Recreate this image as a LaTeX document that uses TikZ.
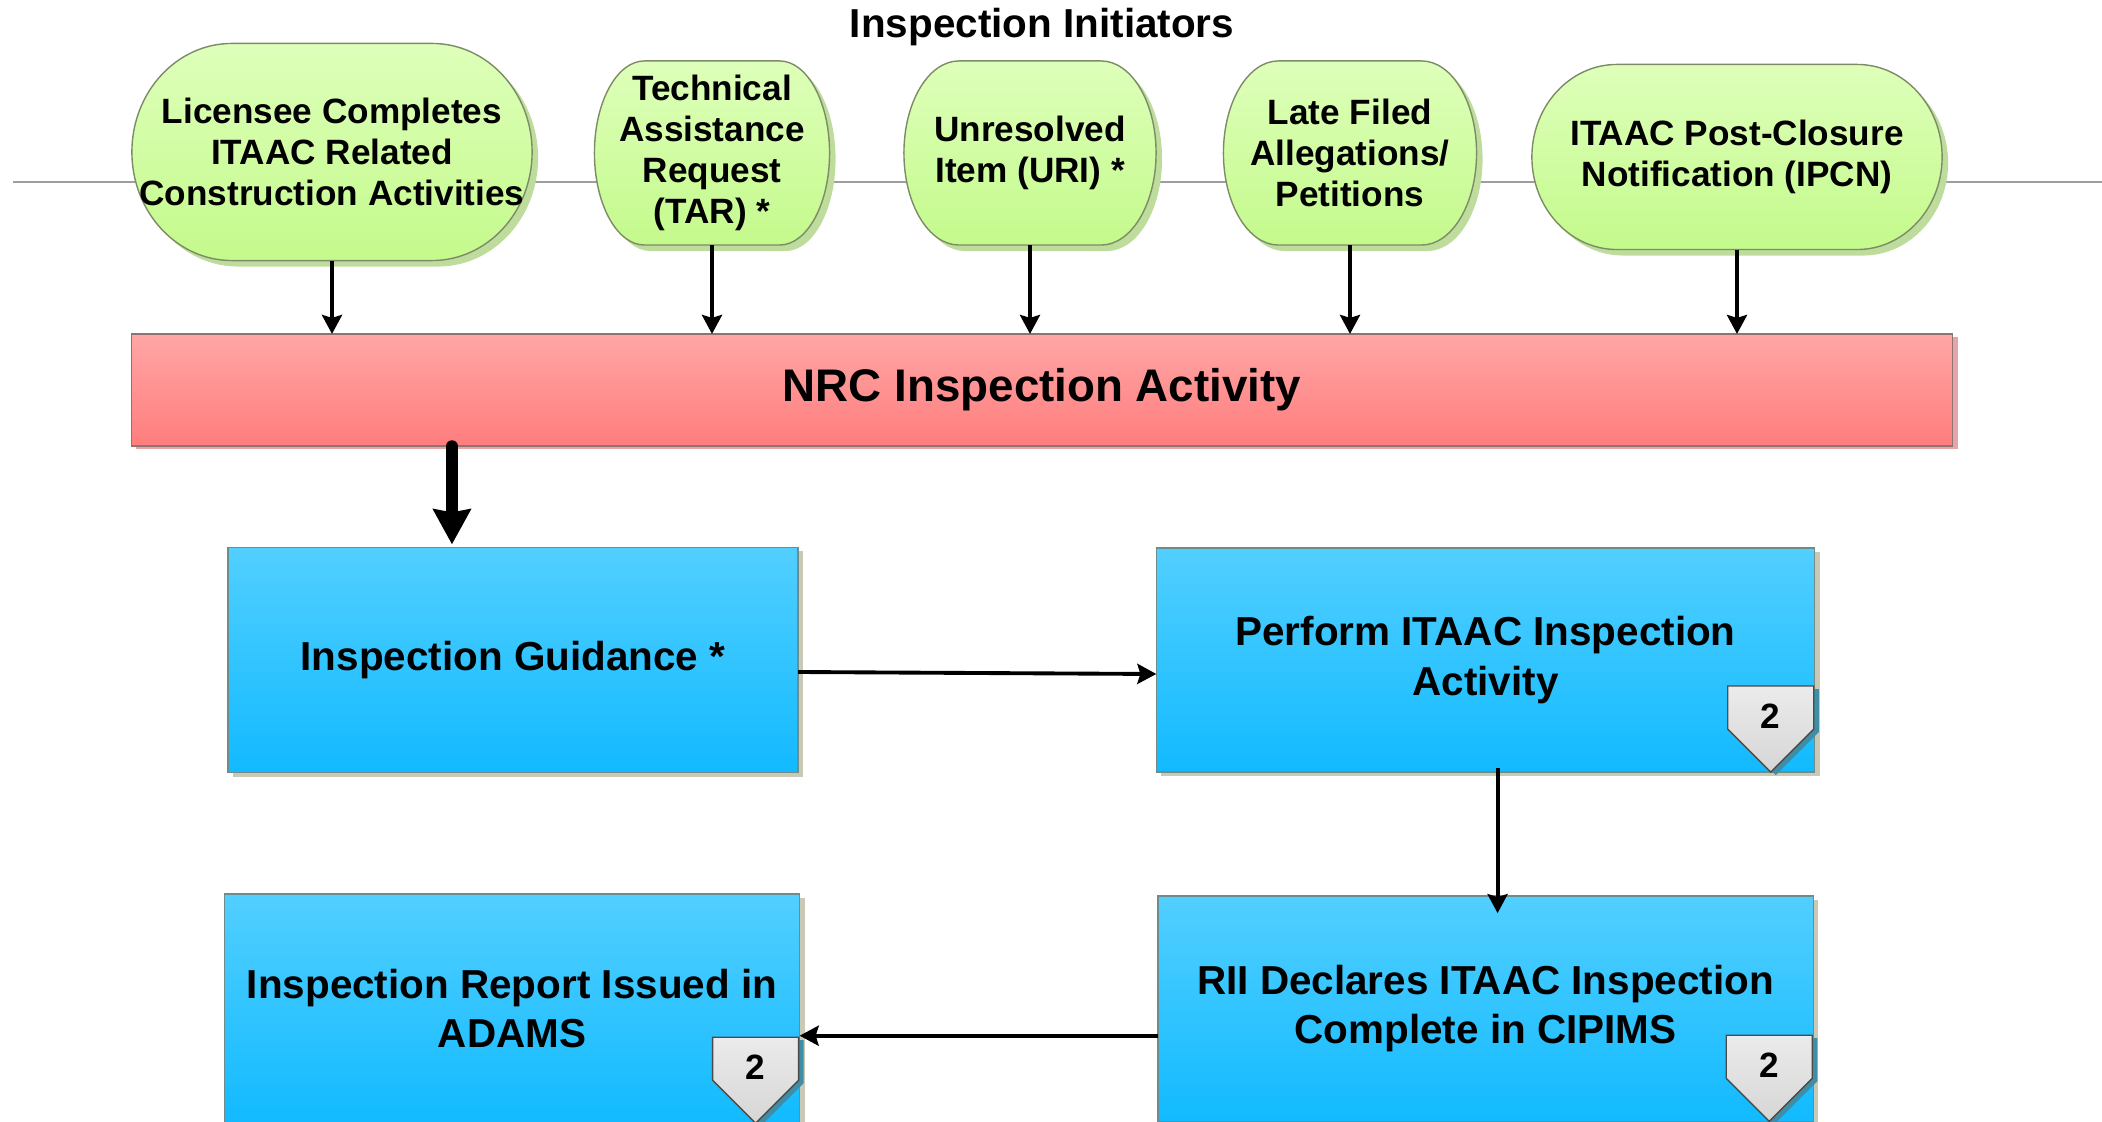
\documentclass[tikz,border=0pt]{standalone}
\usepackage{fontspec}
\setmainfont{Liberation Sans}
\usepackage{tikz}
\usetikzlibrary{positioning}
\usetikzlibrary{shapes, backgrounds}
\usetikzlibrary{arrows.meta}
\usetikzlibrary{shadows}
\usetikzlibrary{calc}
\tikzstyle{line} = [draw, -{Stealth[length=0.19cm, width=0.2cm, inset=0.03cm]}, line width=1.1pt]

\definecolor{initTop}{HTML}{DEFFBA}
\definecolor{initBot}{HTML}{C4FA8C}
\definecolor{initEdge}{HTML}{7D8C66}
\definecolor{initShade}{HTML}{BEDC9C}
\definecolor{nrcTop}{HTML}{FFA6A6}
\definecolor{nrcBot}{HTML}{FF7D7D}
\definecolor{nrcEdge}{HTML}{8F7272}
\definecolor{nrcShade}{HTML}{E3A5A5}
\definecolor{procTop}{HTML}{52CFFF}
\definecolor{procBot}{HTML}{12BAFF}
\definecolor{procEdge}{HTML}{6E8C8C}
\definecolor{procShade}{HTML}{C9C9B5}
\definecolor{markTop}{HTML}{EBEBEB}
\definecolor{markBot}{HTML}{D6D6D6}
\definecolor{markEdge}{HTML}{4A4A4A}
\definecolor{markShade}{HTML}{3F8EA6}

% rounded initiator outline, drawn behind its node
\newcommand{\initshape}[3]{%
  \begin{scope}[on background layer]
    \fill[initShade, transform canvas={shift={(0.06cm,-0.06cm)}}] ([xshift=#2]#1.north west) -- ([xshift=-#2]#1.north east) arc[start angle=90, end angle=-90, x radius=#2, y radius=#3] -- ([xshift=#2]#1.south west) arc[start angle=270, end angle=90, x radius=#2, y radius=#3] -- cycle;
    \shadedraw[top color=initTop, bottom color=initBot, draw=initEdge, line width=0.4pt] ([xshift=#2]#1.north west) -- ([xshift=-#2]#1.north east) arc[start angle=90, end angle=-90, x radius=#2, y radius=#3] -- ([xshift=#2]#1.south west) arc[start angle=270, end angle=90, x radius=#2, y radius=#3] -- cycle;
  \end{scope}}

% grey page marker in the corner of a box
\newcommand{\stepmark}[3]{%
  \coordinate (#1tip) at ([xshift=-0.44cm]#2.south east);
  \fill[markShade] ([xshift=0.05cm, yshift=-0.03cm]#1tip) -- ++(0.43cm,0.43cm) -- ++(0,0.43cm) -- ++(-0.86cm,0) -- ++(0,-0.43cm) -- cycle;
  \shadedraw[top color=markTop, bottom color=markBot, draw=markEdge, line width=0.4pt] (#1tip) -- ++(0.43cm,0.43cm) -- ++(0,0.43cm) -- ++(-0.86cm,0) -- ++(0,-0.43cm) -- cycle;
  \node[markfont] (#1) at ([yshift=0.56cm]#1tip) {#3};}

\begin{document}
\begin{tikzpicture}[x=0.01cm, y=-0.01cm,
        initiator/.style={rectangle, inner sep=0pt, outer sep=0pt, align=center, font=\fontsize{10}{11.7}\selectfont\bfseries},
        heading/.style={anchor=base, font=\fontsize{11.5}{13}\selectfont\bfseries},
        nrcbox/.style={draw=nrcEdge, rectangle, top color=nrcTop, bottom color=nrcBot, outer sep=0pt, font=\fontsize{13}{15}\selectfont\bfseries, drop shadow={shadow xshift=0.05cm, shadow yshift=-0.03cm, fill=nrcShade, opacity=1}},
        process/.style={draw=procEdge, rectangle, top color=procTop, bottom color=procBot, outer sep=0pt, align=center, font=\fontsize{11.5}{14}\selectfont\bfseries, drop shadow={shadow xshift=0.05cm, shadow yshift=-0.04cm, fill=procShade, opacity=1}},
        markfont/.style={font=\fontsize{10}{12}\selectfont\bfseries},
        bigarrow/.style={draw, -{Stealth[length=0.35cm, width=0.37cm, inset=0.03cm]}, line width=0.115cm, line cap=round}]
    \useasboundingbox (0,0) rectangle (2102,1122);

    \node[heading] (title) at (1042,38) {Inspection Initiators};

    \begin{scope}[on background layer]
        \draw[black!38, line width=0.5pt] (13,182) -- (2102,182);
    \end{scope}

    % initiators
    \node[initiator, minimum width=4cm, minimum height=2.17cm] (licensee) at (332,152) {Licensee Completes\\ITAAC Related\\Construction Activities};
    \initshape{licensee}{1cm}{1.085cm}
    \node[initiator, minimum width=2.35cm, minimum height=1.84cm] (tar) at (712,153) {Technical\\Assistance\\Request\\(TAR) *};
    \initshape{tar}{0.5cm}{0.92cm}
    \node[initiator, minimum width=2.52cm, minimum height=1.84cm] (uri) at (1030,153) {Unresolved\\Item (URI) *};
    \initshape{uri}{0.55cm}{0.92cm}
    \node[initiator, minimum width=2.53cm, minimum height=1.84cm] (late) at (1350,153) {Late Filed\\Allegations/\\Petitions};
    \initshape{late}{0.55cm}{0.92cm}
    \node[initiator, minimum width=4.1cm, minimum height=1.85cm] (ipcn) at (1737,157) {ITAAC Post-Closure\\Notification (IPCN)};
    \initshape{ipcn}{0.85cm}{0.925cm}

    \node[nrcbox, minimum width=18.2cm, minimum height=1.12cm] (nrc) at (1042,390) {NRC Inspection Activity};

    \foreach \src in {licensee, tar, uri, late, ipcn}
        \draw[line] (\src.south) -- (\src.south |- nrc.north);

    % process boxes
    \node[process, minimum width=5.7cm, minimum height=2.25cm] (guide) at (513,660) {Inspection Guidance *};
    \node[process, minimum width=6.58cm, minimum height=2.24cm, right=3.58cm of guide] (perform) {Perform ITAAC Inspection\\Activity};
    \node[process, minimum width=6.55cm, minimum height=2.25cm, below=1.24cm of perform] (rii) {RII Declares ITAAC Inspection\\Complete in CIPIMS};
    \node[process, minimum width=5.75cm, minimum height=2.29cm, left=3.58cm of rii] (report) {Inspection Report Issued in\\ADAMS};

    \stepmark{performmark}{perform}{2}
    \stepmark{riimark}{rii}{2}
    \stepmark{reportmark}{report}{2}

    \draw[bigarrow] ([xshift=-0.61cm]guide.north |- nrc.south) -- ([xshift=-0.61cm, yshift=0.03cm]guide.north);
    \draw[line] ([yshift=-0.12cm]guide.east) -- ([yshift=-0.14cm]perform.west);
    \draw[line] ([xshift=0.12cm, yshift=0.04cm]perform.south) -- ([xshift=0.12cm, yshift=-0.17cm]rii.north);
    \coordinate (riiout) at ([yshift=-0.27cm]rii.west);
    \draw[line] (riiout) -- (riiout -| report.east);
\end{tikzpicture}
\end{document}
